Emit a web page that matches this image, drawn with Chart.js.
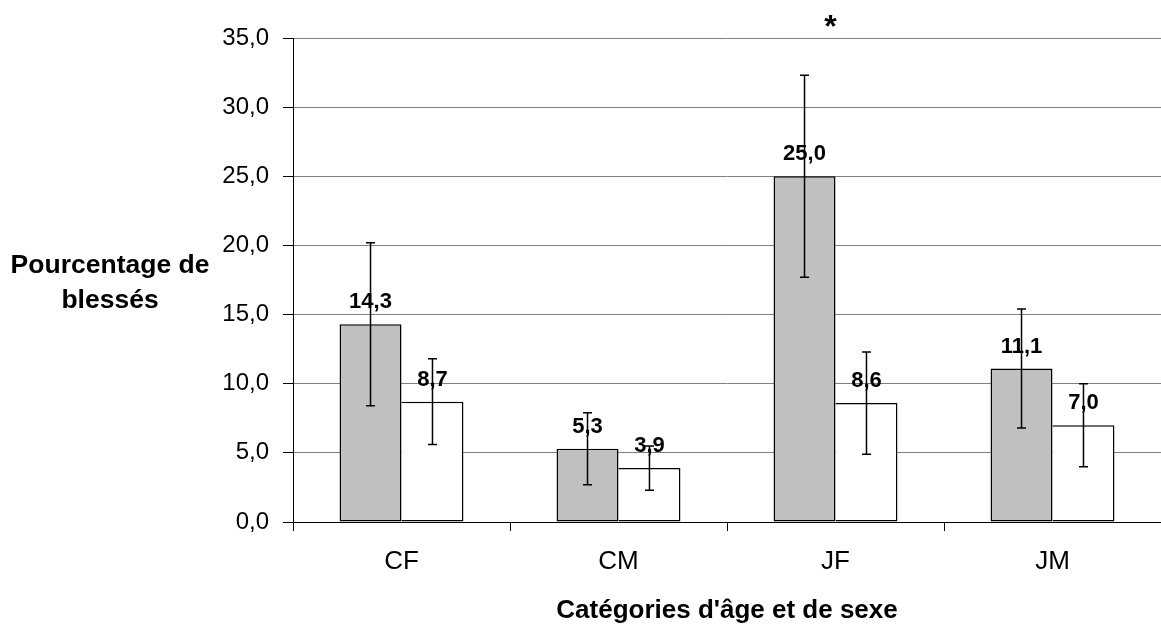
<!DOCTYPE html>
<html lang="fr">
<head>
<meta charset="utf-8">
<title>Pourcentage de blessés</title>
<script src="https://cdn.jsdelivr.net/npm/chart.js@4.4.1/dist/chart.umd.min.js"></script>
<style>
    html, body { margin: 0; padding: 0; background: #fff; }
    #wrap { width: 1161px; height: 628px; position: relative; }
</style>
</head>
<body>
<div id="wrap"><canvas id="injuryChart"></canvas></div>
<script>
// values
const categories = ['CF', 'CM', 'JF', 'JM'];
const greyValues = [14.3, 5.3, 25.0, 11.1];
const whiteValues = [8.7, 3.9, 8.6, 7.0];
const greyErrors = [5.9, 2.6, 7.3, 4.3];
const whiteErrors = [3.1, 1.6, 3.7, 3.0];
const yTicks = [0, 5, 10, 15, 20, 25, 30, 35];
const starCategory = 'JF';
const starLevel = 36.25;

const FONT = "Arial, 'Liberation Sans', sans-serif";

function fmt(v) {
    return v.toFixed(1).replace('.', ',');
}

// error bars + value labels + asterisk + horizontal y title
const extrasPlugin = {
    id: 'extras',
    afterDatasetsDraw(chart) {
        const ctx = chart.ctx;
        const yScale = chart.scales.y;
        const xScale = chart.scales.x;
        const errors = [greyErrors, whiteErrors];

        ctx.save();
        chart.data.datasets.forEach((ds, di) => {
            const meta = chart.getDatasetMeta(di);
            meta.data.forEach((bar, i) => {
                const v = ds.data[i];
                const e = errors[di][i];
                const x = bar.x;
                const yHi = yScale.getPixelForValue(v + e);
                const yLo = yScale.getPixelForValue(v - e);

                // value label above the bar
                ctx.fillStyle = '#000';
                ctx.font = 'bold 22px ' + FONT;
                ctx.textAlign = 'center';
                ctx.textBaseline = 'alphabetic';
                ctx.fillText(fmt(v), x, bar.y - 16);

                // error bar
                ctx.strokeStyle = '#000';
                ctx.lineWidth = 1.5;
                ctx.beginPath();
                ctx.moveTo(x, yHi);
                ctx.lineTo(x, yLo);
                ctx.moveTo(x - 4.5, yHi);
                ctx.lineTo(x + 4.5, yHi);
                ctx.moveTo(x - 4.5, yLo);
                ctx.lineTo(x + 4.5, yLo);
                ctx.stroke();
            });
        });

        // significance star (sits a little left of the category centre)
        ctx.font = 'bold 32px ' + FONT;
        ctx.textAlign = 'center';
        ctx.textBaseline = 'alphabetic';
        const m = ctx.measureText('*');
        const sx = xScale.getPixelForValue(categories.indexOf(starCategory)) - 5;
        const sy = yScale.getPixelForValue(starLevel);
        const shift = (m.actualBoundingBoxAscent - m.actualBoundingBoxDescent) / 2;
        ctx.fillText('*', sx, sy + shift);

        // y axis title, written horizontally on two lines
        ctx.font = 'bold 26.5px ' + FONT;
        const midY = (chart.chartArea.top + chart.chartArea.bottom) / 2;
        ctx.fillText('Pourcentage de', 110, midY - 7);
        ctx.fillText('blessés', 110, midY + 28);
        ctx.restore();
    }
};

document.addEventListener('DOMContentLoaded', function() {
    const ctx = document.getElementById('injuryChart').getContext('2d');

    new Chart(ctx, {
        type: 'bar',
        data: {
            labels: categories,
            datasets: [{
                label: 'Série 1',
                data: greyValues,
                backgroundColor: '#C0C0C0',
                borderColor: '#000',
                borderWidth: 1.5,
                borderSkipped: false
            }, {
                label: 'Série 2',
                data: whiteValues,
                backgroundColor: '#FFFFFF',
                borderColor: '#000',
                borderWidth: { top: 1.5, right: 1.5, bottom: 1.5, left: 0 },
                borderSkipped: false
            }]
        },
        options: {
            responsive: true,
            maintainAspectRatio: false,
            animation: false,
            categoryPercentage: 0.571,
            barPercentage: 1.0,
            layout: {
                padding: { top: 38, right: 0, bottom: 0, left: 0 }
            },
            plugins: {
                legend: { display: false },
                tooltip: { enabled: false }
            },
            scales: {
                x: {
                    offset: true,
                    grid: {
                        display: true,
                        drawOnChartArea: false,
                        tickLength: 9,
                        tickColor: '#000',
                        offset: true
                    },
                    border: { color: '#000', width: 1 },
                    ticks: {
                        color: '#000',
                        padding: 18,
                        font: { family: FONT, size: 26, lineHeight: 1 }
                    },
                    title: {
                        display: true,
                        text: "Catégories d'âge et de sexe",
                        color: '#000',
                        font: { family: FONT, size: 26, weight: 'bold', lineHeight: 1 },
                        padding: { top: 3, bottom: 4 }
                    },
                    afterFit(scale) {
                        scale.height = 106;
                    }
                },
                y: {
                    min: 0,
                    max: 35,
                    afterBuildTicks(scale) {
                        scale.ticks = yTicks.map(v => ({ value: v }));
                    },
                    grid: {
                        color: '#808080',
                        lineWidth: 1,
                        tickLength: 10,
                        tickColor: '#000'
                    },
                    border: { color: '#000', width: 1 },
                    ticks: {
                        color: '#000',
                        padding: 14,
                        font: { family: FONT, size: 24 },
                        callback: (v) => fmt(v)
                    },
                    afterFit(scale) {
                        scale.width = 293;
                    }
                }
            }
        },
        plugins: [extrasPlugin]
    });
});
</script>
</body>
</html>
